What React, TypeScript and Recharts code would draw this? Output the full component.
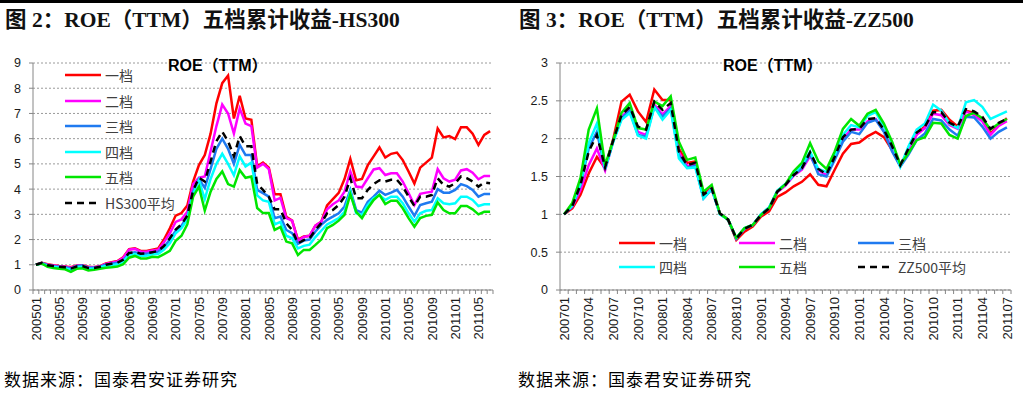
import React from "react";
import { LineChart, Line, XAxis, YAxis, CartesianGrid } from "recharts";

// HS300: monthly categories 200501 - 201107
const hsMonths = [
  "200501", "200502", "200503", "200504", "200505", "200506", "200507", "200508", "200509", "200510", "200511", "200512",
  "200601", "200602", "200603", "200604", "200605", "200606", "200607", "200608", "200609", "200610", "200611", "200612",
  "200701", "200702", "200703", "200704", "200705", "200706", "200707", "200708", "200709", "200710", "200711", "200712",
  "200801", "200802", "200803", "200804", "200805", "200806", "200807", "200808", "200809", "200810", "200811", "200812",
  "200901", "200902", "200903", "200904", "200905", "200906", "200907", "200908", "200909", "200910", "200911", "200912",
  "201001", "201002", "201003", "201004", "201005", "201006", "201007", "201008", "201009", "201010", "201011", "201012",
  "201101", "201102", "201103", "201104", "201105", "201106", "201107",
];

const hsTier1 = [
  1.0, 1.08, 1.02, 0.98, 0.95, 0.93, 0.9, 0.97, 0.98, 0.92, 0.9, 0.95,
  1.05, 1.1, 1.15, 1.3, 1.62, 1.65, 1.55, 1.55, 1.6, 1.65, 2.0, 2.45,
  2.95, 3.05, 3.35, 4.3, 4.95, 5.35, 6.2, 7.4, 8.2, 8.5, 6.8, 7.7,
  6.8, 6.75, 4.9, 5.05, 4.85, 3.8, 3.8, 2.9, 2.75, 2.0, 2.12, 2.15,
  2.55, 2.7, 3.35, 3.6, 3.85, 4.4, 5.2, 4.35, 4.4, 4.95, 5.3, 5.65,
  5.25, 5.4, 5.45, 5.15, 4.7, 4.22, 4.85, 5.05, 5.25, 6.4, 6.05, 6.1,
  5.98, 6.45, 6.45, 6.2, 5.75, 6.15, 6.3,
];
const hsTier2 = [
  1.0, 1.07, 1.0, 0.97, 0.94, 0.92, 0.88, 0.96, 0.97, 0.9, 0.9, 0.94,
  1.03, 1.08, 1.13, 1.28, 1.6, 1.63, 1.52, 1.52, 1.57, 1.6, 1.9, 2.25,
  2.7, 2.8, 3.1, 4.2, 4.45, 4.5, 5.5, 6.5, 7.35, 7.0, 6.2, 7.2,
  6.6, 6.5, 4.85, 5.0, 4.8, 3.55, 3.65, 2.85, 2.75, 1.95, 2.1, 2.15,
  2.55, 2.7, 3.2, 3.4, 3.55, 3.9, 4.7, 4.1, 4.07, 4.43, 4.78, 4.83,
  4.56, 4.63, 4.63, 4.3, 3.84, 3.37, 3.81, 3.86, 3.9, 4.79, 4.43, 4.3,
  4.37, 4.74, 4.79, 4.65, 4.39, 4.52, 4.52,
];
const hsTier3 = [
  1.0, 1.07, 0.98, 0.94, 0.92, 0.9, 0.85, 0.95, 0.97, 0.88, 0.88, 0.92,
  1.0, 1.04, 1.08, 1.18, 1.45, 1.5, 1.44, 1.44, 1.48, 1.52, 1.7, 2.0,
  2.35, 2.55, 2.9, 3.9, 4.4, 4.05, 4.8, 5.6, 6.0, 5.6, 5.0, 5.75,
  5.35, 5.35, 3.97, 3.84, 3.7, 2.85, 2.91, 2.38, 2.25, 1.83, 1.96, 2.0,
  2.32, 2.58, 2.78, 2.91, 3.04, 3.31, 3.97, 3.17, 3.07, 3.5, 3.7, 3.94,
  3.77, 3.86, 3.97, 3.7, 3.31, 2.94, 3.37, 3.44, 3.5, 4.0, 3.86, 3.86,
  3.97, 4.2, 4.12, 3.97, 3.7, 3.81, 3.81,
];
const hsTier4 = [
  1.0, 1.05, 0.95, 0.92, 0.88, 0.86, 0.8, 0.9, 0.92, 0.84, 0.85, 0.9,
  0.95, 0.98, 1.02, 1.12, 1.4, 1.43, 1.36, 1.36, 1.42, 1.43, 1.6, 1.85,
  2.25, 2.45, 2.8, 3.8, 4.35, 3.6, 4.4, 5.0, 5.4, 5.0, 4.55, 5.3,
  4.9, 5.05, 3.75, 3.55, 3.5, 2.6, 2.7, 2.15, 2.05, 1.65, 1.75, 1.8,
  2.1, 2.35, 2.6, 2.72, 2.85, 3.1, 3.9, 3.04, 2.98, 3.37, 3.64, 3.77,
  3.57, 3.7, 3.7, 3.44, 3.04, 2.71, 3.04, 3.14, 3.17, 3.64, 3.44, 3.4,
  3.44, 3.7, 3.7, 3.57, 3.33, 3.4, 3.4,
];
const hsTier5 = [
  1.0, 1.05, 0.92, 0.87, 0.84, 0.82, 0.72, 0.84, 0.86, 0.77, 0.8, 0.84,
  0.88, 0.9, 0.93, 1.02, 1.28, 1.35, 1.25, 1.25, 1.32, 1.3, 1.42, 1.55,
  1.95, 2.15, 2.6, 3.7, 4.1, 3.15, 3.9, 4.4, 4.7, 4.2, 4.1, 4.75,
  4.45, 4.5, 3.25, 3.05, 3.05, 2.38, 2.5, 1.92, 1.85, 1.39, 1.59, 1.59,
  1.79, 2.0, 2.45, 2.58, 2.75, 2.98, 3.8, 3.1, 2.85, 3.24, 3.57, 3.77,
  3.41, 3.54, 3.54, 3.24, 2.85, 2.51, 2.85, 2.94, 2.98, 3.47, 3.17, 3.04,
  3.04, 3.33, 3.33, 3.2, 3.0, 3.1, 3.1,
];
const hsAvg = [
  1.0, 1.08, 0.98, 0.95, 0.92, 0.9, 0.85, 0.93, 0.95, 0.87, 0.87, 0.92,
  1.0, 1.04, 1.08, 1.2, 1.47, 1.5, 1.44, 1.45, 1.5, 1.55, 1.75, 2.05,
  2.4, 2.6, 2.95, 3.95, 4.45, 4.3, 5.1, 5.9, 6.28, 5.9, 5.3, 6.1,
  5.7, 5.7, 4.2, 3.97, 3.7, 3.2, 3.2, 2.65, 2.38, 1.85, 1.98, 2.05,
  2.38, 2.65, 3.04, 3.17, 3.37, 3.7, 4.43, 3.64, 3.64, 3.97, 4.2, 4.35,
  4.3, 4.37, 4.37, 4.1, 3.7, 3.33, 3.7, 3.7, 3.77, 4.43, 4.17, 4.1,
  4.23, 4.5, 4.43, 4.3, 4.1, 4.26, 4.23,
];

// ZZ500: monthly categories 200701 - 201107
const zzMonths = [
  "200701", "200702", "200703", "200704", "200705", "200706", "200707", "200708", "200709", "200710", "200711", "200712",
  "200801", "200802", "200803", "200804", "200805", "200806", "200807", "200808", "200809", "200810", "200811", "200812",
  "200901", "200902", "200903", "200904", "200905", "200906", "200907", "200908", "200909", "200910", "200911", "200912",
  "201001", "201002", "201003", "201004", "201005", "201006", "201007", "201008", "201009", "201010", "201011", "201012",
  "201101", "201102", "201103", "201104", "201105", "201106", "201107",
];

const zzTier1 = [
  1.0, 1.08, 1.26, 1.54, 1.76, 1.61, 2.0, 2.49, 2.58, 2.36, 2.22, 2.65,
  2.51, 2.51, 1.87, 1.68, 1.7, 1.27, 1.35, 1.01, 0.93, 0.66, 0.77, 0.84,
  0.97, 1.04, 1.23, 1.29, 1.37, 1.43, 1.53, 1.39, 1.37, 1.59, 1.8, 1.93,
  1.95, 2.03, 2.09, 2.02, 1.85, 1.64, 1.83, 2.07, 2.16, 2.37, 2.38, 2.25,
  2.16, 2.37, 2.34, 2.26, 2.07, 2.18, 2.27,
];
const zzTier2 = [
  1.0, 1.1, 1.32, 1.65, 1.87, 1.58, 1.97, 2.29, 2.39, 2.09, 2.05, 2.45,
  2.32, 2.43, 1.82, 1.64, 1.66, 1.23, 1.34, 1.01, 0.93, 0.68, 0.81, 0.86,
  0.99, 1.08, 1.29, 1.38, 1.51, 1.59, 1.77, 1.58, 1.52, 1.74, 2.0, 2.12,
  2.12, 2.23, 2.26, 2.1, 1.88, 1.64, 1.85, 2.05, 2.14, 2.33, 2.31, 2.18,
  2.13, 2.36, 2.31, 2.23, 2.05, 2.17, 2.23,
];
const zzTier3 = [
  1.0, 1.11, 1.39, 1.87, 2.09, 1.6, 1.97, 2.27, 2.37, 2.05, 2.03, 2.42,
  2.29, 2.4, 1.78, 1.62, 1.64, 1.21, 1.33, 1.01, 0.93, 0.68, 0.81, 0.86,
  1.0, 1.09, 1.31, 1.4, 1.52, 1.61, 1.8, 1.53, 1.5, 1.72, 1.96, 2.09,
  2.06, 2.21, 2.25, 2.09, 1.83, 1.63, 1.79, 1.98, 2.07, 2.26, 2.24, 2.12,
  2.04, 2.29, 2.28, 2.16, 2.0, 2.09, 2.15,
];
const zzTier4 = [
  1.0, 1.12, 1.4, 1.94, 2.2, 1.6, 1.96, 2.25, 2.34, 2.04, 2.0, 2.42,
  2.25, 2.38, 1.74, 1.61, 1.62, 1.21, 1.34, 1.0, 0.93, 0.69, 0.82, 0.86,
  1.0, 1.09, 1.31, 1.4, 1.53, 1.66, 1.83, 1.6, 1.56, 1.78, 2.05, 2.18,
  2.15, 2.3, 2.35, 2.16, 1.94, 1.63, 1.9, 2.12, 2.2, 2.45, 2.37, 2.2,
  2.14, 2.48, 2.51, 2.42, 2.26, 2.31, 2.36,
];
const zzTier5 = [
  1.0, 1.15, 1.48, 2.12, 2.4, 1.65, 1.98, 2.34, 2.47, 2.14, 2.12, 2.49,
  2.43, 2.56, 1.96, 1.72, 1.75, 1.3, 1.39, 1.01, 0.93, 0.69, 0.82, 0.86,
  0.99, 1.08, 1.3, 1.4, 1.57, 1.68, 1.94, 1.7, 1.6, 1.83, 2.13, 2.26,
  2.17, 2.33, 2.38, 2.2, 1.96, 1.66, 1.81, 1.98, 2.02, 2.21, 2.2, 2.05,
  2.0, 2.3, 2.34, 2.27, 2.12, 2.2, 2.26,
];
const zzAvg = [
  1.0, 1.11, 1.39, 1.83, 2.05, 1.62, 1.98, 2.31, 2.42, 2.16, 2.12, 2.49,
  2.38, 2.47, 1.83, 1.65, 1.68, 1.26, 1.34, 1.01, 0.93, 0.68, 0.81, 0.86,
  0.99, 1.08, 1.3, 1.39, 1.52, 1.61, 1.82, 1.6, 1.53, 1.76, 2.02, 2.12,
  2.13, 2.26, 2.27, 2.12, 1.9, 1.65, 1.87, 2.08, 2.16, 2.35, 2.35, 2.21,
  2.16, 2.39, 2.36, 2.29, 2.13, 2.21, 2.26,
];

const hsTicks = [0, 1, 2, 3, 4, 5, 6, 7, 8, 9];
const zzTicks = [0, 0.5, 1, 1.5, 2, 2.5, 3];

const seriesStyle = [
  { key: "t1", name: "一档", color: "#ff0000" },
  { key: "t2", name: "二档", color: "#ff00ff" },
  { key: "t3", name: "三档", color: "#1f7af0" },
  { key: "t4", name: "四档", color: "#00ffff" },
  { key: "t5", name: "五档", color: "#00e600" },
];

const hsData = hsMonths.map((month, i) => ({
  month,
  t1: hsTier1[i],
  t2: hsTier2[i],
  t3: hsTier3[i],
  t4: hsTier4[i],
  t5: hsTier5[i],
  avg: hsAvg[i],
}));

const zzData = zzMonths.map((month, i) => ({
  month,
  t1: zzTier1[i],
  t2: zzTier2[i],
  t3: zzTier3[i],
  t4: zzTier4[i],
  t5: zzTier5[i],
  avg: zzAvg[i],
}));

const AXIS = "#868686";
const SANS = "'Liberation Sans', 'Noto Sans CJK SC', sans-serif";
const CJK = "'Noto Sans CJK SC', sans-serif";

// ticks between every category, label every `every` categories
const makeMonthTick = (step: number, every: number, last: number) => (props: any) => {
  const { x, y, payload, index } = props;
  return (
    <g transform={`translate(${x},${y})`}>
      <line x1={-step / 2} x2={-step / 2} y1={0} y2={4} stroke={AXIS} />
      {index === last && <line x1={step / 2} x2={step / 2} y1={0} y2={4} stroke={AXIS} />}
      {index % every === 0 && (
        <text
          transform="rotate(-90)"
          x={-7}
          y={0}
          dy="0.36em"
          textAnchor="end"
          fontSize={13}
          fontFamily={SANS}
          fill="#1a1a1a"
        >
          {payload.value}
        </text>
      )}
    </g>
  );
};

const LegendItem = ({ color, label, dashed, x, y }) => (
  <div style={{ position: "absolute", left: x, top: y - 10, height: 20, display: "flex", alignItems: "center" }}>
    <svg width={36} height={6} style={{ display: "block" }}>
      <line x1={0} x2={36} y1={3} y2={3} stroke={color} strokeWidth={2.6} strokeDasharray={dashed ? "7 5" : undefined} />
    </svg>
    <span style={{ marginLeft: 4, fontSize: 14, fontFamily: CJK, color: "#404040", lineHeight: "20px" }}>{label}</span>
  </div>
);

const Panel = ({ data, ticks, domain, yWidth, plotWidth, every, avgName, left }) => {
  const step = plotWidth / data.length;
  const width = yWidth + plotWidth + 12;
  return (
    <div style={{ position: "absolute", left, top: 0 }}>
      <LineChart width={width} height={350} data={data} margin={{ top: 63, right: 12, left: 0, bottom: 0 }}>
        <CartesianGrid vertical={false} stroke="#9a9a9a" strokeDasharray="2 2" />
        <XAxis
          dataKey="month"
          interval={0}
          height={60}
          tickLine={false}
          tickSize={0}
          tickMargin={0}
          padding={{ left: step / 2, right: step / 2 }}
          axisLine={{ stroke: AXIS }}
          tick={makeMonthTick(step, every, data.length - 1)}
        />
        <YAxis
          type="number"
          domain={domain}
          ticks={ticks}
          interval={0}
          width={yWidth}
          tickSize={4}
          tickMargin={8}
          axisLine={{ stroke: AXIS }}
          tickLine={{ stroke: AXIS }}
          tick={{ fontSize: 12.5, fontFamily: SANS, fill: "#1a1a1a" }}
        />
        {seriesStyle.map((s) => (
          <Line
            key={s.key}
            type="linear"
            dataKey={s.key}
            name={s.name}
            stroke={s.color}
            strokeWidth={2.5}
            dot={false}
            isAnimationActive={false}
          />
        ))}
        <Line
          type="linear"
          dataKey="avg"
          name={avgName}
          stroke="#000000"
          strokeWidth={2.5}
          strokeDasharray="7 5"
          dot={false}
          isAnimationActive={false}
        />
      </LineChart>
    </div>
  );
};

const titleStyle: React.CSSProperties = {
  position: "absolute",
  top: 7,
  fontSize: 21.5,
  fontWeight: "bold",
  fontFamily: "'Liberation Serif', 'Noto Sans CJK SC', serif",
  color: "#111",
  whiteSpace: "nowrap",
  lineHeight: "26px",
};

const innerTitle: React.CSSProperties = {
  position: "absolute",
  top: 56,
  fontSize: 16,
  fontWeight: "bold",
  fontFamily: SANS,
  color: "#000",
  whiteSpace: "nowrap",
  lineHeight: "20px",
};

const sourceStyle: React.CSSProperties = {
  position: "absolute",
  top: 369,
  fontSize: 17,
  letterSpacing: 1,
  fontFamily: CJK,
  color: "#000",
  whiteSpace: "nowrap",
  lineHeight: "20px",
};

export default function App() {
  return (
    <div style={{ position: "absolute", left: 0, top: 0, width: 1023, height: 394, background: "#fff", overflow: "hidden" }}>
      <div style={{ position: "absolute", left: 0, top: 0, width: 1023, height: 3, background: "#000" }} />

      <div style={{ ...titleStyle, left: 5 }}>图 2：ROE（TTM）五档累计收益-HS300</div>
      <div style={{ ...titleStyle, left: 519 }}>图 3：ROE（TTM）五档累计收益-ZZ500</div>

      <Panel data={hsData} ticks={hsTicks} domain={[0, 9]} yWidth={33} plotWidth={460} every={4} avgName="HS300平均" left={0} />
      <Panel data={zzData} ticks={zzTicks} domain={[0, 3]} yWidth={48} plotWidth={451} every={3} avgName="ZZ500平均" left={512} />

      <div style={{ ...innerTitle, left: 168 }}>ROE（TTM）</div>
      <div style={{ ...innerTitle, left: 723 }}>ROE（TTM）</div>

      {seriesStyle.map((s, i) => (
        <LegendItem key={s.key} color={s.color} label={s.name} x={65} y={75 + i * 25.5} />
      ))}
      <LegendItem color="#000" label="HS300平均" dashed x={65} y={202.5} />

      {seriesStyle.map((s, i) => (
        <LegendItem
          key={s.key}
          color={s.color}
          label={s.name}
          x={[619, 739, 858][i % 3]}
          y={i < 3 ? 243 : 267}
        />
      ))}
      <LegendItem color="#000" label="ZZ500平均" dashed x={858} y={267} />

      <div style={{ ...sourceStyle, left: 4 }}>数据来源：国泰君安证券研究</div>
      <div style={{ ...sourceStyle, left: 518 }}>数据来源：国泰君安证券研究</div>
    </div>
  );
}
